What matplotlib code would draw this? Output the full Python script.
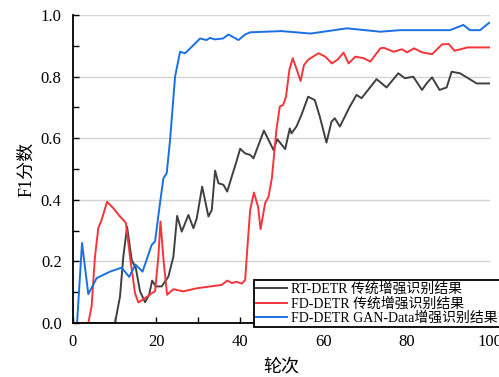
import matplotlib
matplotlib.use("Agg")
import matplotlib.pyplot as plt
import numpy as np

plt.rcParams['font.family'] = ['Liberation Serif', 'Noto Sans CJK SC']
plt.rcParams['axes.unicode_minus'] = False

# RT-DETR traditional augmentation
x_rt = [0, 10.1, 11.3, 12.1, 13.0, 14.1, 15.1, 16.1, 17.3, 18.3, 19.0, 19.9, 21.3, 22.9, 24.1, 25.0,
        26.1, 27.7, 28.9, 29.7, 31.0, 32.5, 33.3, 34.1, 34.9, 36.1, 37.0, 38.1, 39.1, 40.1, 41.3,
        42.5, 43.3, 45.8, 48.1, 49.0, 50.9, 52.0, 52.4, 53.6, 54.8, 56.4, 58.0, 59.2, 60.8, 62.0,
        62.8, 64.0, 66.4, 68.0, 69.2, 72.8, 75.2, 78.0, 79.6, 81.6, 83.7, 84.8, 86.1, 87.9, 89.6,
        90.8, 92.8, 94.4, 96.8, 99.9]
y_rt = [0, 0, 0.086, 0.216, 0.313, 0.205, 0.178, 0.103, 0.068, 0.092, 0.138, 0.119, 0.119, 0.151, 0.216, 0.348,
        0.297, 0.351, 0.308, 0.34, 0.443, 0.346, 0.367, 0.495, 0.454, 0.449, 0.427, 0.476, 0.519, 0.566, 0.551,
        0.546, 0.535, 0.625, 0.562, 0.597, 0.565, 0.632, 0.616, 0.638, 0.676, 0.735, 0.724, 0.67, 0.586, 0.654,
        0.665, 0.638, 0.703, 0.741, 0.73, 0.792, 0.765, 0.811, 0.795, 0.8, 0.757, 0.778, 0.798, 0.757, 0.765,
        0.816, 0.811, 0.798, 0.778, 0.778]

# FD-DETR traditional augmentation
x_fd = [0, 3.7, 4.5, 5.3, 6.1, 6.9, 8.2, 9.7, 11.3, 12.7, 13.7, 14.9, 15.7, 17.3, 18.9, 19.7, 20.5,
        21.0, 21.8, 22.6, 24.1, 26.5, 29.7, 32.9, 35.7, 37.0, 38.1, 39.3, 40.5, 41.3, 41.8, 42.5,
        43.4, 44.4, 45.0, 46.1, 46.9, 47.7, 48.8, 49.6, 50.4, 51.1, 51.9, 52.7, 53.7, 54.6, 55.4,
        56.5, 58.9, 60.5, 62.1, 63.5, 64.9, 66.1, 67.7, 69.7, 71.3, 73.7, 74.5, 76.9, 78.9, 80.1,
        81.8, 83.7, 86.1, 88.5, 90.1, 91.5, 94.6, 99.9]
y_fd = [0, 0, 0.054, 0.216, 0.308, 0.335, 0.394, 0.373, 0.346, 0.326, 0.216, 0.097, 0.067, 0.081, 0.097, 0.103, 0.216,
        0.33, 0.195, 0.092, 0.11, 0.103, 0.113, 0.119, 0.124, 0.138, 0.13, 0.134, 0.128, 0.14, 0.238, 0.367,
        0.424, 0.378, 0.305, 0.39, 0.41, 0.47, 0.627, 0.703, 0.708, 0.735, 0.822, 0.86, 0.822, 0.786, 0.838,
        0.856, 0.876, 0.865, 0.843, 0.856, 0.878, 0.843, 0.865, 0.86, 0.849, 0.892, 0.894, 0.881, 0.889, 0.879,
        0.892, 0.879, 0.873, 0.905, 0.906, 0.884, 0.895, 0.895]

# FD-DETR GAN-Data augmentation
x_gan = [1.0, 2.2, 3.7, 5.7, 8.9, 11.7, 13.5, 15.0, 16.7, 18.9, 19.7, 20.7, 21.7, 22.5, 23.3, 24.5,
         25.7, 26.9, 28.5, 30.5, 32.0, 32.9, 34.0, 36.0, 37.3, 39.7, 41.3, 42.5, 50.0, 57.0, 65.7,
         73.7, 78.4, 90.4, 93.6, 95.2, 97.6, 99.8]
y_gan = [0, 0.26, 0.094, 0.146, 0.167, 0.18, 0.15, 0.19, 0.167, 0.254, 0.265, 0.37, 0.47, 0.487, 0.594, 0.8,
         0.881, 0.876, 0.897, 0.924, 0.919, 0.926, 0.921, 0.924, 0.937, 0.919, 0.937, 0.944, 0.948, 0.94, 0.957,
         0.946, 0.951, 0.951, 0.968, 0.951, 0.951, 0.975]

labels = ["RT-DETR 传统增强识别结果", "FD-DETR 传统增强识别结果", "FD-DETR GAN-Data增强识别结果"]

fig = plt.figure(figsize=(4.99, 3.77), dpi=100)
ax = fig.add_axes([0.146, 0.143, 0.836, 0.817])

ax.plot(x_rt, y_rt, color="#404040", lw=1.4, label=labels[0])
ax.plot(x_fd, y_fd, color="#f4353b", lw=1.4, label=labels[1])
ax.plot(x_gan, y_gan, color="#1a6fe3", lw=1.4, label=labels[2])

ax.set_xlim(0, 100)
ax.set_ylim(0, 1.0)
ax.set_xticks([0, 20, 40, 60, 80, 100])
ax.set_xticks([10, 30, 50, 70, 90], minor=True)
ax.set_yticks([0.0, 0.2, 0.4, 0.6, 0.8, 1.0])
ax.set_yticks([0.1, 0.3, 0.5, 0.7, 0.9], minor=True)
ax.set_yticklabels(["0.0", "0.2", "0.4", "0.6", "0.8", "1.0"])
ax.tick_params(axis="both", which="both", direction="in", length=4, width=1, labelsize=12, pad=8)
ax.grid(axis="y", which="major", color="#d3d3d3", lw=1)
ax.set_axisbelow(True)
for s in ["top", "right"]:
    ax.spines[s].set_visible(False)
for s in ["left", "bottom"]:
    ax.spines[s].set_linewidth(1.3)

ax.set_xlabel("轮次", fontsize=13, labelpad=6)
ax.set_ylabel("F1分数", fontsize=13, labelpad=4)

leg = ax.legend(loc="lower left", bbox_to_anchor=(0.509, 0.132), bbox_transform=fig.transFigure,
                fontsize=10, frameon=True, fancybox=False, framealpha=1, edgecolor="black",
                borderpad=0.15, labelspacing=0.1, handlelength=2.2, handletextpad=0.3, borderaxespad=0)
leg.get_frame().set_linewidth(1.3)

fig.savefig("out.png", dpi=100)
